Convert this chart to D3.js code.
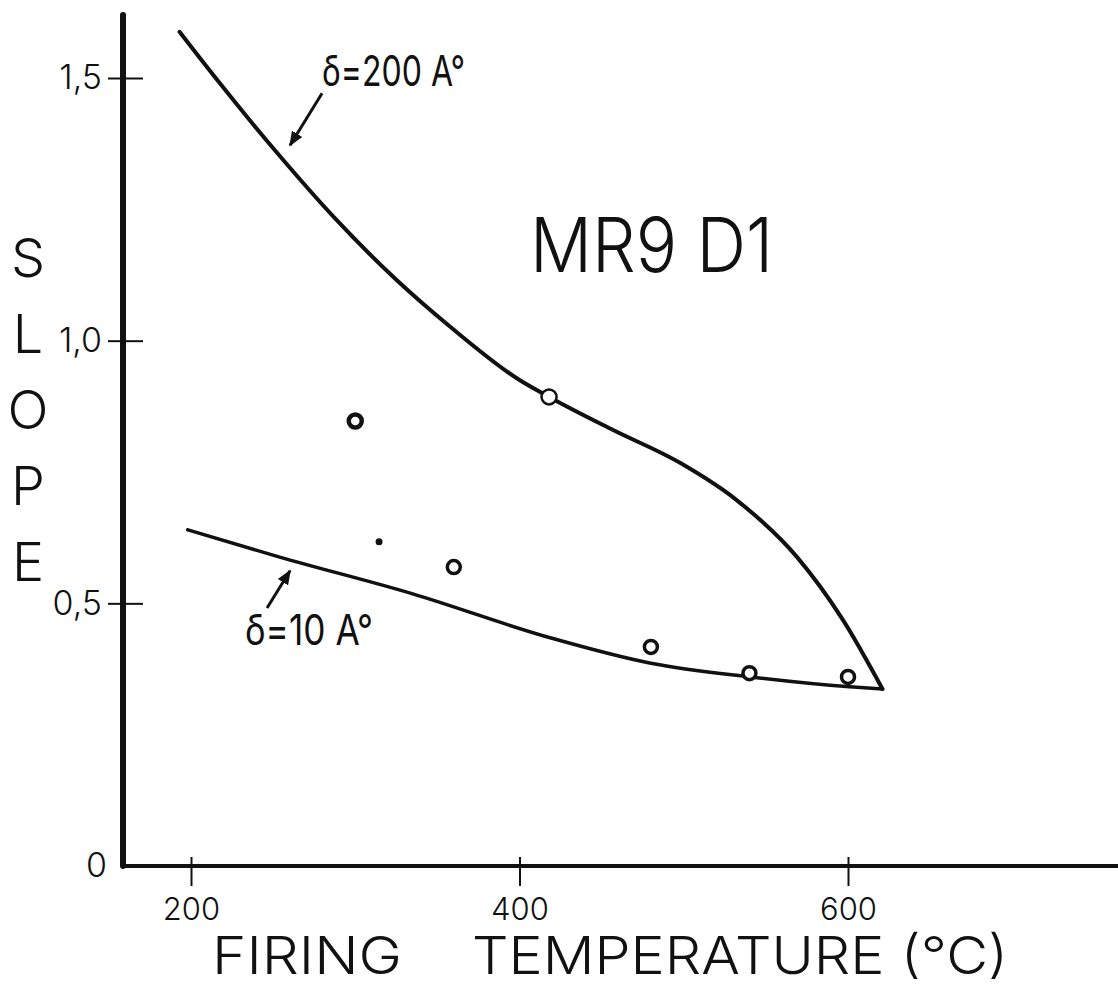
<!DOCTYPE html>
<html>
<head>
<meta charset="utf-8">
<script src="https://cdn.jsdelivr.net/npm/d3@7"></script>
<style>
  body { margin: 0; background: #fff; }
  text { font-family: Inter, "Open Sans", "DejaVu Sans", sans-serif; fill: #111; }
</style>
</head>
<body>
<script>
const width = 1118;
const height = 987;

// curve: delta = 200 A
const upperTemp  = [193, 216, 252, 287, 325, 358, 400, 418, 457, 498, 532, 569, 597, 621];
const upperSlope = [1.588, 1.496, 1.359, 1.235, 1.116, 1.026, 0.925, 0.893, 0.830, 0.767, 0.697, 0.588, 0.468, 0.337];

// curve: delta = 10 A
const lowerTemp  = [198, 254, 335, 417, 480, 540, 601, 621];
const lowerSlope = [0.640, 0.588, 0.518, 0.436, 0.386, 0.360, 0.341, 0.337];

// measured points (rings)
const pointTemp  = [300, 418, 360, 480, 540, 600];
const pointSlope = [0.847, 0.893, 0.569, 0.417, 0.367, 0.360];
// lone small dot
const dotTemp = [314.5];
const dotSlope = [0.617];

const xTicks = [200, 400, 600];
const yTicks = [0, 0.5, 1.0, 1.5];
const yLetters = ['S', 'L', 'O', 'P', 'E'];

const x = d3.scaleLinear().domain([200, 600]).range([191, 848]);
const y = d3.scaleLinear().domain([0, 1.5]).range([866, 78]);

const svg = d3.select('body').append('svg')
  .attr('width', width)
  .attr('height', height)
  .style('background', '#fff');

svg.append('defs').append('marker')
  .attr('id', 'arrow')
  .attr('viewBox', '0 0 10 10')
  .attr('refX', 9).attr('refY', 5)
  .attr('markerWidth', 5).attr('markerHeight', 5)
  .attr('orient', 'auto')
  .append('path')
  .attr('d', 'M0,1 L10,5 L0,9 Z')
  .attr('fill', '#111');

// y axis
const yAxis = svg.append('g')
  .attr('transform', `translate(${x(158.6)},0)`)
  .call(d3.axisLeft(y).tickValues(yTicks).tickSize(15).tickPadding(6)
    .tickFormat(d => d === 0 ? '0' : d3.format('.1f')(d).replace('.', ',')));
yAxis.select('.domain').remove();
yAxis.append('line')
  .attr('x1', 0).attr('x2', 0)
  .attr('y1', y(1.62)).attr('y2', y(0))
  .attr('stroke', '#111').attr('stroke-width', 6).attr('stroke-linecap', 'round');
yAxis.selectAll('.tick').filter(d => d > 0).append('line')
  .attr('x1', 0).attr('x2', 20).attr('stroke', '#111').attr('stroke-width', 2);
yAxis.selectAll('.tick').filter(d => d === 0).select('line').remove();
yAxis.selectAll('.tick').filter(d => d === 0).select('text').attr('x', -16);
yAxis.selectAll('.tick line').attr('stroke', '#111').attr('stroke-width', 2);
yAxis.selectAll('.tick text')
  .style('font-family', 'Inter, "Open Sans", sans-serif')
  .style('font-weight', 300)
  .attr('font-size', 34).attr('fill', '#111');

// x axis
const xAxis = svg.append('g')
  .attr('transform', `translate(0,${y(0)})`)
  .call(d3.axisBottom(x).tickValues(xTicks).tickSize(20).tickPadding(12));
xAxis.select('.domain').remove();
xAxis.append('line')
  .attr('x1', x(158.6)).attr('x2', width)
  .attr('y1', 0).attr('y2', 0)
  .attr('stroke', '#111').attr('stroke-width', 4);
xAxis.selectAll('.tick').append('line')
  .attr('y1', 0).attr('y2', -9).attr('stroke', '#111').attr('stroke-width', 2);
xAxis.selectAll('.tick line').attr('stroke', '#111').attr('stroke-width', 2);
xAxis.selectAll('.tick text')
  .style('font-family', 'Inter, "Open Sans", sans-serif')
  .style('font-weight', 300)
  .attr('font-size', 31).attr('fill', '#111');

// curves
const line = d3.line()
  .x(d => x(d[0]))
  .y(d => y(d[1]))
  .curve(d3.curveMonotoneX);

svg.append('path')
  .datum(upperTemp.map((t, i) => [t, upperSlope[i]]))
  .attr('d', line)
  .attr('fill', 'none').attr('stroke', '#111').attr('stroke-width', 4)
  .attr('stroke-linecap', 'round');

svg.append('path')
  .datum(lowerTemp.map((t, i) => [t, lowerSlope[i]]))
  .attr('d', line)
  .attr('fill', 'none').attr('stroke', '#111').attr('stroke-width', 3.5)
  .attr('stroke-linecap', 'round');

// points
svg.selectAll('.pt')
  .data(pointTemp.map((t, i) => [t, pointSlope[i]]))
  .enter().append('circle')
  .attr('class', 'pt')
  .attr('cx', d => x(d[0]))
  .attr('cy', d => y(d[1]))
  .attr('r', (d, i) => i === 1 ? 7.5 : 6.5)
  .attr('fill', '#fff')
  .attr('stroke', '#111')
  .attr('stroke-width', (d, i) => i === 0 ? 4.5 : (i === 1 ? 2.5 : 3.5));

svg.selectAll('.dot')
  .data(dotTemp.map((t, i) => [t, dotSlope[i]]))
  .enter().append('circle')
  .attr('class', 'dot')
  .attr('cx', d => x(d[0]))
  .attr('cy', d => y(d[1]))
  .attr('r', 3.5)
  .attr('fill', '#111');

// annotations
function arrow(t0, s0, t1, s1) {
  svg.append('line')
    .attr('x1', x(t0)).attr('y1', y(s0))
    .attr('x2', x(t1)).attr('y2', y(s1))
    .attr('stroke', '#111').attr('stroke-width', 3)
    .attr('marker-end', 'url(#arrow)');
}
arrow(279.8, 1.471, 260.3, 1.372);
arrow(246.3, 0.491, 260.3, 0.562);

svg.append('text')
  .attr('x', x(279.8)).attr('y', y(1.485))
  .attr('font-size', 42)
  .attr('textLength', 143).attr('lengthAdjust', 'spacingAndGlyphs')
  .text('δ=200 A°');

svg.append('text')
  .attr('x', x(232.9)).attr('y', y(0.421))
  .attr('font-size', 42)
  .attr('textLength', 128).attr('lengthAdjust', 'spacingAndGlyphs')
  .text('δ=10 A°');

svg.append('text')
  .attr('x', x(406.4)).attr('y', y(1.131))
  .attr('font-size', 75)
  .style('font-weight', 300)
  .attr('textLength', 243).attr('lengthAdjust', 'spacingAndGlyphs')
  .text('MR9 D1');

// y title, stacked letters
svg.selectAll('.ylab')
  .data(yLetters)
  .enter().append('text')
  .attr('class', 'ylab')
  .attr('x', 28)
  .attr('y', (d, i) => 277 + i * 76)
  .attr('text-anchor', 'middle')
  .attr('font-size', 54)
  .style('font-weight', 300)
  .text(d => d);

// x title
svg.append('text')
  .attr('x', 212).attr('y', 974)
  .attr('font-size', 52)
  .style('font-weight', 300)
  .attr('textLength', 190).attr('lengthAdjust', 'spacingAndGlyphs')
  .text('FIRING');

svg.append('text')
  .attr('x', 472).attr('y', 974)
  .attr('font-size', 52)
  .style('font-weight', 300)
  .attr('textLength', 536).attr('lengthAdjust', 'spacingAndGlyphs')
  .text('TEMPERATURE (°C)');
</script>
</body>
</html>
